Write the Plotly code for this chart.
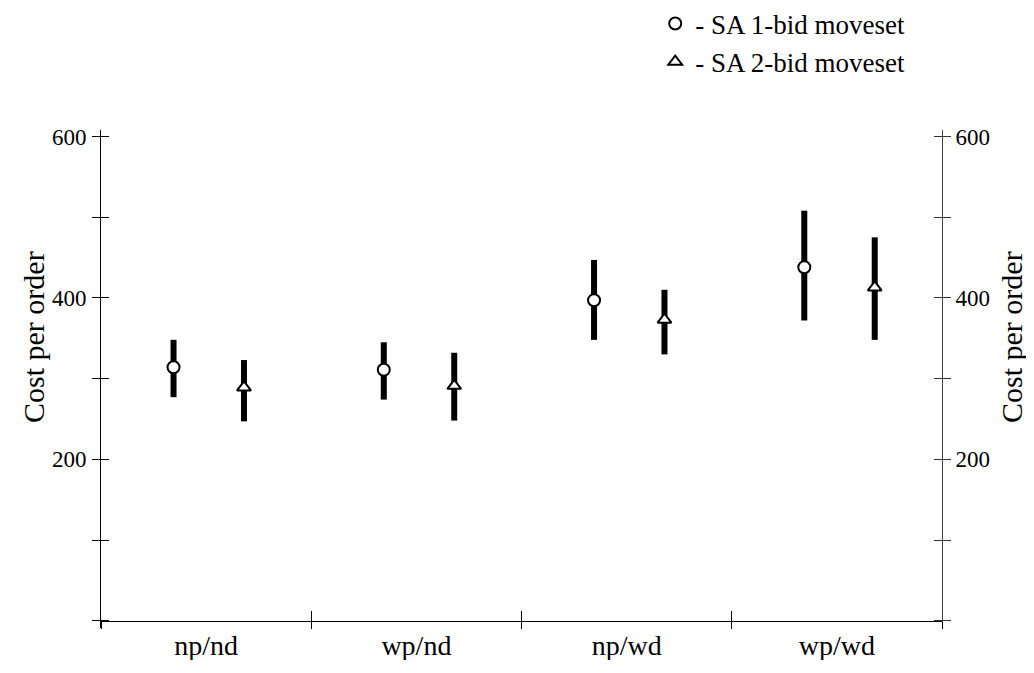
import plotly.graph_objects as go

categories = ["np/nd", "wp/nd", "np/wd", "wp/wd"]

sa1_mean = [314, 311, 397, 438]
sa1_high = [348, 345, 447, 508]
sa1_low = [277, 274, 348, 372]

sa2_mean = [289, 291, 373, 413]
sa2_high = [323, 332, 410, 475]
sa2_low = [247, 248, 330, 348]

y_tick_vals = [0, 100, 200, 300, 400, 500, 600]
y_tick_text = ["", "", "200", "", "400", "", "600"]
y_title = "Cost per order"

FONT = "Liberation Serif"
YR = [-9, 608]
p0 = (0 - YR[0]) / (YR[1] - YR[0])

idx = list(range(len(categories)))
x_sa1 = [i + 0.345 for i in idx]
x_sa2 = [i + 0.68 for i in idx]

fig = go.Figure()

fig.add_trace(go.Scatter(
    x=x_sa1, y=sa1_mean, mode="markers", name="- SA 1-bid moveset",
    legendgroup="a",
    marker=dict(symbol="circle", size=12, color="white", line=dict(color="black", width=2)),
    error_y=dict(type="data", symmetric=False,
                 array=[h - m for h, m in zip(sa1_high, sa1_mean)],
                 arrayminus=[m - l for m, l in zip(sa1_mean, sa1_low)],
                 thickness=6, width=0, color="black"),
))
fig.add_trace(go.Scatter(
    x=x_sa2, y=sa2_mean, mode="markers", name="- SA 2-bid moveset",
    legendgroup="b",
    marker=dict(symbol="triangle-up", size=12, color="white", line=dict(color="black", width=2)),
    error_y=dict(type="data", symmetric=False,
                 array=[h - m for h, m in zip(sa2_high, sa2_mean)],
                 arrayminus=[m - l for m, l in zip(sa2_mean, sa2_low)],
                 thickness=6, width=0, color="black"),
))

# invisible helper traces so that the overlaying axes get drawn
for xa, ya in [("x2", "y2"), ("x3", "y3"), ("x", "y4")]:
    fig.add_trace(go.Scatter(x=x_sa1, y=sa1_mean, xaxis=xa, yaxis=ya, mode="markers",
                             marker=dict(opacity=0), showlegend=False, hoverinfo="skip"))

bounds = list(range(len(categories) + 1))
centers = [i + 0.5 for i in idx]

common_x = dict(range=[0, len(categories)], anchor="free", position=p0, showgrid=False,
                zeroline=False, automargin=False, fixedrange=True)
common_y = dict(range=YR, showgrid=False, zeroline=False, tickvals=y_tick_vals,
                automargin=False, fixedrange=True)

# plot area in figure px: x 93..934, y 122..620 (page has 8px body margin)
PW = 841.0
PH = 498.0

fig.update_layout(
    width=1024, height=652,
    margin=dict(l=93, r=90, t=122, b=32, autoexpand=False),
    paper_bgcolor="white", plot_bgcolor="white",
    font=dict(family=FONT, color="black", size=24),
    showlegend=True,
    legend=dict(x=0.659, y=1.262, xanchor="left", yanchor="top",
                font=dict(family=FONT, size=27, color="black"),
                tracegroupgap=0, bgcolor="rgba(0,0,0,0)"),
    xaxis=dict(**common_x, tickmode="array", tickvals=bounds, showticklabels=False,
               ticks="outside", ticklen=7, tickcolor="black", showline=True,
               linecolor="black", linewidth=1),
    xaxis2=dict(**common_x, overlaying="x", tickmode="array", tickvals=bounds,
                showticklabels=False, ticks="inside", ticklen=10, tickcolor="black",
                showline=False),
    xaxis3=dict(**common_x, overlaying="x", tickmode="array", tickvals=centers,
                ticktext=categories, ticks="", showline=False, ticklabelstandoff=5,
                tickfont=dict(family=FONT, size=28, color="black")),
    yaxis=dict(**common_y, tickmode="array", ticktext=y_tick_text, ticks="outside",
               ticklen=8, tickcolor="black", showline=True, linecolor="black", linewidth=1,
               ticklabelstandoff=1,
               tickfont=dict(family=FONT, size=23, color="black")),
    yaxis2=dict(**common_y, overlaying="y", tickmode="array", showticklabels=False,
                ticks="inside", ticklen=8, tickcolor="black", showline=False),
    yaxis3=dict(**common_y, overlaying="y", side="right", anchor="x2", tickmode="array",
                ticktext=y_tick_text, ticks="outside", ticklen=8, tickcolor="#333",
                showline=True, linecolor="#444", linewidth=1,
                tickfont=dict(family=FONT, size=23, color="black")),
    yaxis4=dict(**common_y, overlaying="y", side="right", anchor="x", tickmode="array",
                showticklabels=False, ticks="inside", ticklen=8, tickcolor="#333",
                showline=False),
)

title_y = 1 - (329 - 122) / PH
for xp in [(25 - 93) / PW, (1003 - 93) / PW]:
    fig.add_annotation(text=y_title, xref="paper", yref="paper", x=xp, y=title_y,
                       xanchor="center", yanchor="middle", textangle=-90, showarrow=False,
                       font=dict(family=FONT, size=30, color="black"))

fig.write_html("out.html")
